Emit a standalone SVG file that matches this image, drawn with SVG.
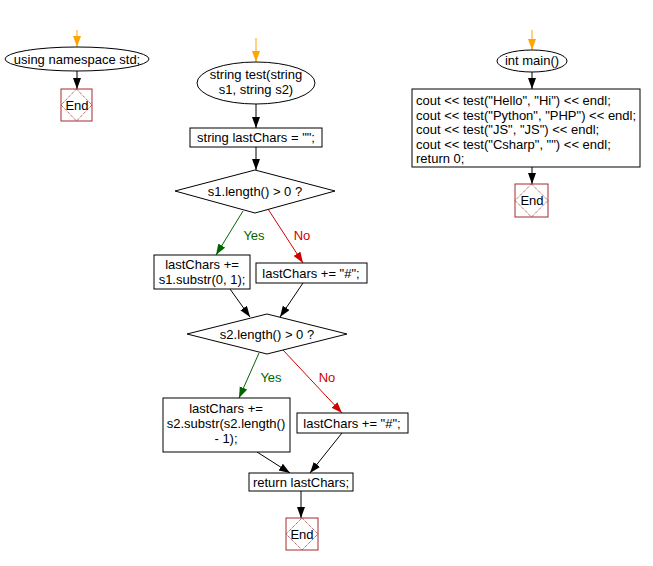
<svg xmlns="http://www.w3.org/2000/svg" width="653" height="566" viewBox="0 0 653 566">
<style>
text{font-family:"Liberation Sans",Arial,sans-serif;font-size:13px;fill:#000}
.n{fill:#fff;stroke:#000;stroke-width:1}
.c{fill:none;stroke:#000;stroke-width:1}
.o{fill:none;stroke:#ffa500;stroke-width:1}
.g{fill:none;stroke:#006400;stroke-width:1}
.r{fill:none;stroke:#d00000;stroke-width:1}
.er{fill:#fff;stroke:#a52a2a;stroke-width:1}
.ed{fill:none;stroke:#a52a2a;stroke-width:1;stroke-dasharray:1 1}
.m{text-anchor:middle}
.gl{fill:#006400}
.rl{fill:#d00000}
</style>
<defs>
<marker id="ab" markerUnits="userSpaceOnUse" markerWidth="12" markerHeight="10" refX="11" refY="4" orient="auto"><path d="M0,0 L11,4 L0,8 z" fill="#000"/></marker>
<marker id="ao" markerUnits="userSpaceOnUse" markerWidth="12" markerHeight="10" refX="11" refY="4" orient="auto"><path d="M0,0 L11,4 L0,8 z" fill="#ffa500"/></marker>
<marker id="ag" markerUnits="userSpaceOnUse" markerWidth="12" markerHeight="10" refX="11" refY="4" orient="auto"><path d="M0,0 L11,4 L0,8 z" fill="#006400"/></marker>
<marker id="ar" markerUnits="userSpaceOnUse" markerWidth="12" markerHeight="10" refX="11" refY="4" orient="auto"><path d="M0,0 L11,4 L0,8 z" fill="#d00000"/></marker>
</defs>
<rect width="653" height="566" fill="#fff"/>
<g id="connectors">
<line class="o" x1="77" y1="30" x2="77" y2="47" marker-end="url(#ao)"/>
<line class="c" x1="77" y1="71" x2="77" y2="89" marker-end="url(#ab)"/>
<line class="o" x1="256" y1="38" x2="256" y2="62" marker-end="url(#ao)"/>
<line class="c" x1="256" y1="104" x2="256" y2="128" marker-end="url(#ab)"/>
<line class="c" x1="256" y1="147" x2="256" y2="170" marker-end="url(#ab)"/>
<line class="g" x1="243" y1="211" x2="216" y2="255" marker-end="url(#ag)"/>
<line class="r" x1="268" y1="209" x2="303" y2="263" marker-end="url(#ar)"/>
<line class="c" x1="230" y1="289" x2="250" y2="317" marker-end="url(#ab)"/>
<line class="c" x1="303" y1="283" x2="280" y2="317" marker-end="url(#ab)"/>
<line class="g" x1="259" y1="353" x2="239" y2="398" marker-end="url(#ag)"/>
<line class="r" x1="283" y1="350" x2="342" y2="413" marker-end="url(#ar)"/>
<line class="c" x1="257" y1="452" x2="290" y2="473" marker-end="url(#ab)"/>
<line class="c" x1="342" y1="433" x2="310" y2="473" marker-end="url(#ab)"/>
<line class="c" x1="301" y1="491" x2="301" y2="518" marker-end="url(#ab)"/>
<line class="o" x1="532" y1="30" x2="532" y2="50" marker-end="url(#ao)"/>
<line class="c" x1="532" y1="72" x2="532" y2="89" marker-end="url(#ab)"/>
<line class="c" x1="532" y1="167" x2="532" y2="184" marker-end="url(#ab)"/>
<text x="254" y="240" class="m gl">Yes</text>
<text x="302" y="240" class="m rl">No</text>
<text x="271" y="382" class="m gl">Yes</text>
<text x="327" y="382" class="m rl">No</text>
</g>
<g id="ns">
<ellipse class="n" cx="77" cy="59" rx="72" ry="12"/>
<text x="77" y="64" class="m">using namespace std;</text>
</g>
<g id="end1">
<rect class="er" x="61" y="89" width="31" height="32"/>
<path class="ed" d="M76.5,89 L92,105 L76.5,121 L61,105 z"/>
<text x="77" y="110" class="m">End</text>
</g>
<g id="func">
<ellipse class="n" cx="256" cy="83" rx="59" ry="21"/>
<text x="256" y="79" class="m">string test(string</text>
<text x="256" y="94" class="m">s1, string s2)</text>
</g>
<g id="init">
<rect class="n" x="190" y="128" width="132" height="19"/>
<text x="256" y="142" class="m">string lastChars = "";</text>
</g>
<g id="dec1">
<path class="n" d="M255,170 L335,191 L255,213 L175,191 z"/>
<text x="255" y="196" class="m">s1.length() &gt; 0 ?</text>
</g>
<g id="yes1">
<rect class="n" x="154" y="255" width="96" height="34"/>
<text x="202" y="269" class="m">lastChars +=</text>
<text x="202" y="284" class="m">s1.substr(0, 1);</text>
</g>
<g id="no1">
<rect class="n" x="256" y="263" width="111" height="20"/>
<text x="311" y="278" class="m">lastChars += "#";</text>
</g>
<g id="dec2">
<path class="n" d="M267,314 L347,334 L267,354 L187,334 z"/>
<text x="267" y="339" class="m">s2.length() &gt; 0 ?</text>
</g>
<g id="yes2">
<rect class="n" x="163" y="398" width="127" height="54"/>
<text x="226" y="413" class="m">lastChars +=</text>
<text x="226" y="428" class="m">s2.substr(s2.length()</text>
<text x="226" y="443" class="m">- 1);</text>
</g>
<g id="no2">
<rect class="n" x="297" y="413" width="111" height="20"/>
<text x="352" y="428" class="m">lastChars += "#";</text>
</g>
<g id="ret">
<rect class="n" x="249" y="473" width="104" height="18"/>
<text x="301" y="487" class="m">return lastChars;</text>
</g>
<g id="end2">
<rect class="er" x="286" y="518" width="32" height="32"/>
<path class="ed" d="M302,518 L318,534 L302,550 L286,534 z"/>
<text x="302" y="539" class="m">End</text>
</g>
<g id="main">
<ellipse class="n" cx="532" cy="61" rx="35" ry="11"/>
<text x="532" y="65" class="m">int main()</text>
</g>
<g id="body">
<rect class="n" x="412" y="89" width="228" height="78"/>
<text x="416" y="105">cout &lt;&lt; test("Hello", "Hi") &lt;&lt; endl;</text>
<text x="416" y="120">cout &lt;&lt; test("Python", "PHP") &lt;&lt; endl;</text>
<text x="416" y="134">cout &lt;&lt; test("JS", "JS") &lt;&lt; endl;</text>
<text x="416" y="149">cout &lt;&lt; test("Csharp", "") &lt;&lt; endl;</text>
<text x="416" y="163">return 0;</text>
</g>
<g id="end3">
<rect class="er" x="515" y="184" width="33" height="33"/>
<path class="ed" d="M531.5,184 L548,200.5 L531.5,217 L515,200.5 z"/>
<text x="532" y="205" class="m">End</text>
</g>
</svg>
